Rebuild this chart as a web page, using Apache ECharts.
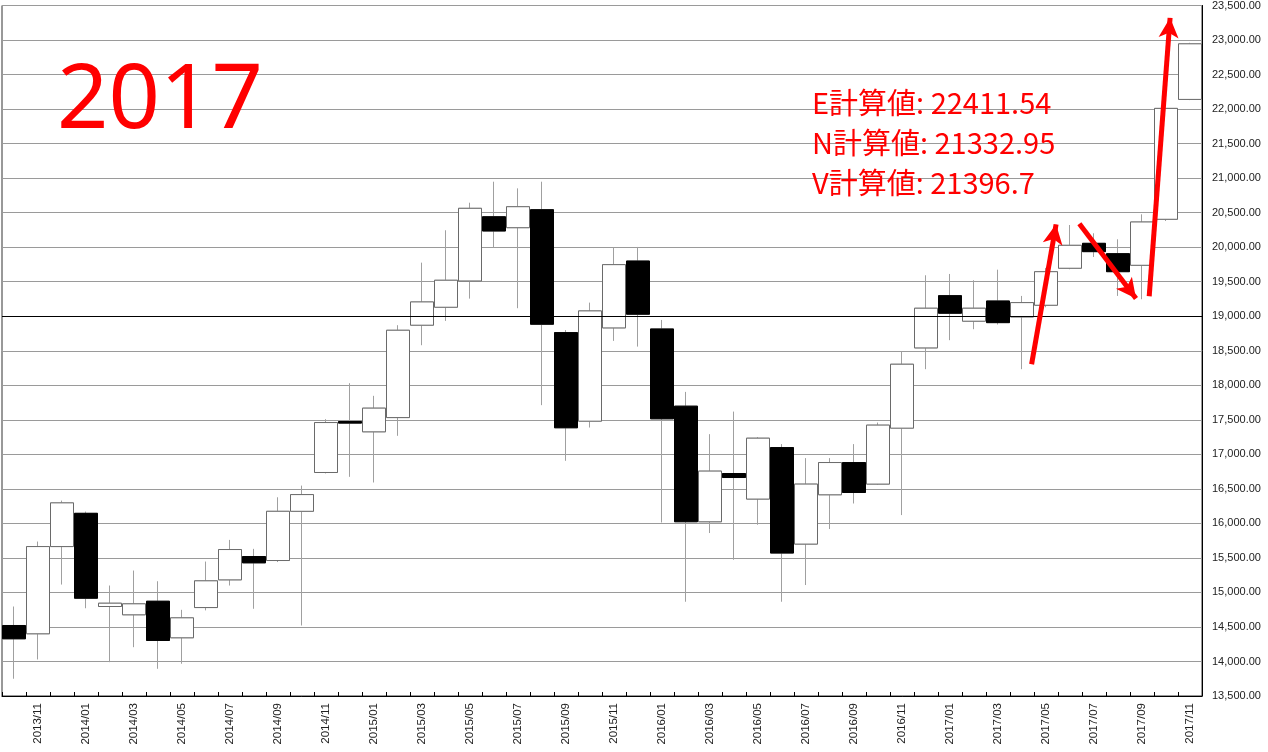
<!DOCTYPE html>
<html>
<head>
<meta charset="utf-8">
<script src="https://cdn.jsdelivr.net/npm/echarts@6/dist/echarts.min.js"></script>
<style>
html,body{margin:0;padding:0;background:#fff;}
#chart{width:1268px;height:752px;}
</style>
</head>
<body>
<div id="chart"></div>
<script>
const months = ['2013/10','2013/11','2013/12','2014/01','2014/02','2014/03','2014/04','2014/05','2014/06','2014/07','2014/08','2014/09','2014/10','2014/11','2014/12','2015/01','2015/02','2015/03','2015/04','2015/05','2015/06','2015/07','2015/08','2015/09','2015/10','2015/11','2015/12','2016/01','2016/02','2016/03','2016/04','2016/05','2016/06','2016/07','2016/08','2016/09','2016/10','2016/11','2016/12','2017/01','2017/02','2017/03','2017/04','2017/05','2017/06','2017/07','2017/08','2017/09','2017/10','2017/11'];
const openV  = [14521,14401,15664,16146,14796,14676,14873,14343,14781,15182,15520,15462,16175,16737,17475,17326,17532,18870,19130,19511,20441,20282,20543,18763,17480,18831,19800,18816,17698,16023,16722,16352,17098,15700,16414,16881,16569,17379,18541,19298,18928,19221,18990,19159,19695,20056,19906,19738,20404,22140];
const closeV = [14328,15664,16297,14916,14844,14835,14304,14632,15168,15621,15428,16175,16417,17460,17452,17669,18797,19207,19521,20563,20234,20586,18884,17384,19077,19747,19029,17514,16023,16757,16664,17234,15570,16569,16881,16447,17423,18305,19116,19043,19116,18907,19197,19645,20027,19935,19645,20365,22010,22945];
const lowV   = [13750,14029,15114,14771,13990,14207,13894,13967,14740,15100,14763,15440,14521,16723,16674,16592,17268,18580,18932,19255,19993,19116,17712,16906,17388,18643,18560,16013,14865,15860,15473,15980,14865,15107,15918,16288,16560,16120,18233,18653,18812,18880,18233,19130,19680,19858,19294,19246,20379,22130];
const highV  = [14796,15737,16330,16171,15100,15317,15162,14748,15447,15761,15631,16378,16547,17509,18030,17847,18870,19776,20245,20644,20948,20852,20948,18800,19197,19993,20003,18946,17904,17292,17619,17250,17148,16945,16945,17148,17460,18488,19593,19612,19521,19674,19294,19700,20321,20201,20114,20476,22020,22960];
const refLevel = 19000;
const yMin = 13500, yMax = 23500, yStep = 500;
const titleText = '2017';
const calcLabels = ['E計算値: 22411.54','N計算値: 21332.95','V計算値: 21396.7'];
// arrows: [startIndex, startValue, endIndex, endValue]
const arrows = [
  [42.40, 18305, 43.42, 20331],
  [44.39, 20340, 46.75, 19255],
  [47.30, 19289, 48.17, 23321]
];

const fullData = months.map((m,i)=>[openV[i], closeV[i], lowV[i], highV[i]]);
const bodyData = months.map((m,i)=>[openV[i], closeV[i], Math.min(openV[i],closeV[i]), Math.max(openV[i],closeV[i])]);

const chart = echarts.init(document.getElementById('chart'), null, {renderer:'canvas'});
chart.setOption({
  animation:false,
  backgroundColor:'#fff',
  grid:{left:2,right:66,top:4,bottom:56,show:true,borderColor:'#333',borderWidth:1,backgroundColor:'transparent'},
  xAxis:[{
    type:'category',
    data:months,
    boundaryGap:true,
    axisLine:{show:true,onZero:false,lineStyle:{color:'#000',width:1}},
    axisTick:{show:true,inside:true,length:4,interval:0,lineStyle:{color:'#000'}},
    axisLabel:{
      rotate:90, margin:7, fontSize:11.5, color:'#222', fontFamily:'Liberation Sans',
      interval:function(i){return i%2===1;}
    },
    splitLine:{show:false}
  },{
    type:'value', min:-0.5, max:months.length-0.5, show:false,
    axisLine:{show:false,onZero:false}
  }],
  yAxis:{
    type:'value', position:'right', min:yMin, max:yMax, interval:yStep,
    axisLine:{show:true,onZero:false,lineStyle:{color:'#000',width:1}},
    axisTick:{show:false},
    axisLabel:{
      margin:10, fontSize:11, color:'#222', fontFamily:'Liberation Sans',
      formatter:function(v){return v.toLocaleString('en-US',{minimumFractionDigits:2,maximumFractionDigits:2});}
    },
    splitLine:{show:true,lineStyle:{color:'#9a9a9a',width:1}}
  },
  series:[{
    type:'candlestick',
    data:fullData,
    barWidth:'100%',
    silent:true,
    itemStyle:{color:'#fff',color0:'#000',borderColor:'#a0a0a0',borderColor0:'#a0a0a0',borderColorDoji:'#a0a0a0',borderWidth:1}
  },{
    type:'candlestick',
    data:bodyData,
    barWidth:'100%',
    silent:true,
    itemStyle:{color:'#fff',color0:'#000',borderColor:'#6a6a6a',borderColor0:'#000',borderColorDoji:'#000',borderWidth:1},
    markLine:{
      silent:true, symbol:['none','none'], label:{show:false},
      lineStyle:{color:'#000',width:1,type:'solid'},
      data:[{yAxis:refLevel}]
    }
  },{
    type:'line',
    xAxisIndex:1,
    data:[],
    silent:true,
    markLine:{
      silent:true,
      symbol:['none','arrow'],
      symbolSize:[15,20],
      label:{show:false},
      lineStyle:{color:'#ff0000',width:5,type:'solid'},
      data:arrows.map(a=>[{coord:[a[0],a[1]]},{coord:[a[2],a[3]]}])
    }
  }],
  graphic:[
    {type:'text', left:57, top:57, style:{text:titleText, font:'90px "Noto Sans"', fill:'#ff0000'}, z:100},
    {type:'text', left:812, top:88, style:{text:calcLabels[0], font:'29px "Noto Sans CJK JP"', fill:'#ff0000'}, z:100},
    {type:'text', left:812, top:128, style:{text:calcLabels[1], font:'29px "Noto Sans CJK JP"', fill:'#ff0000'}, z:100},
    {type:'text', left:812, top:168, style:{text:calcLabels[2], font:'29px "Noto Sans CJK JP"', fill:'#ff0000'}, z:100}
  ]
});
</script>
</body>
</html>
